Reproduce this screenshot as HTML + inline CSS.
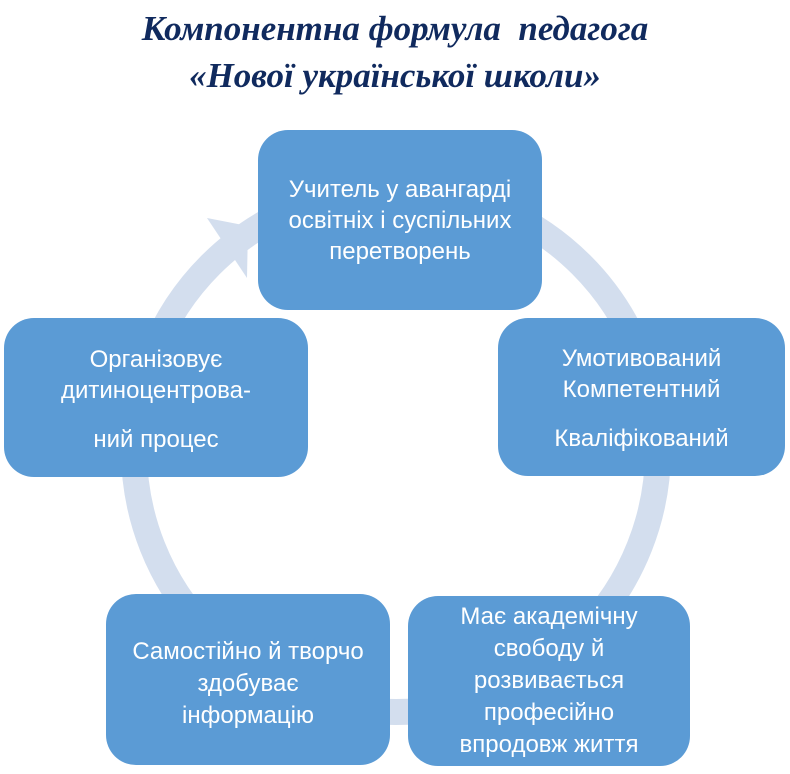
<!DOCTYPE html>
<html><head><meta charset="utf-8"><style>
body{margin:0;width:790px;height:774px;background:#fff;position:relative;overflow:hidden;font-family:"Liberation Sans",sans-serif}
.t{position:absolute;left:0;width:790px;text-align:center;font-family:"Liberation Serif",serif;font-weight:bold;font-style:italic;color:#102a5e;font-size:35px;line-height:47px}
.b{position:absolute;background:#5b9bd5;border-radius:30px;color:#fff;font-size:24px;line-height:31px;display:flex;align-items:center;justify-content:center;text-align:center;box-sizing:border-box}
</style></head><body>
<div class="t" style="top:5px">Компонентна формула&nbsp; педагога<br>«Нової української школи»</div>
<svg width="790" height="774" style="position:absolute;left:0;top:0">
<circle cx="396" cy="450" r="262" fill="none" stroke="#d3deee" stroke-width="26"/>
<polygon points="207,218 248,226 247,278" fill="#d3deee"/>
</svg>
<div class="b" style="left:258px;top:130px;width:284px;height:180px;padding-bottom:0px"><div>Учитель у авангарді<br>освітніх і суспільних<br>перетворень</div></div>
<div class="b" style="left:498px;top:318px;width:287px;height:158px;padding-top:2px"><div>Умотивований<br>Компетентний<br><div style="margin-top:18px">Кваліфікований</div></div></div>
<div class="b" style="left:4px;top:318px;width:304px;height:159px;padding-top:4px"><div>Організовує<br>дитиноцентрова-<br><div style="margin-top:18px">ний процес</div></div></div>
<div class="b" style="left:106px;top:594px;width:284px;height:171px;padding-top:8px;line-height:32px"><div>Самостійно й творчо<br>здобуває<br>інформацію</div></div>
<div class="b" style="left:408px;top:596px;width:282px;height:170px;line-height:32px;padding-top:0px"><div>Має академічну<br>свободу й<br>розвивається<br>професійно<br>впродовж життя</div></div>
</body></html>
